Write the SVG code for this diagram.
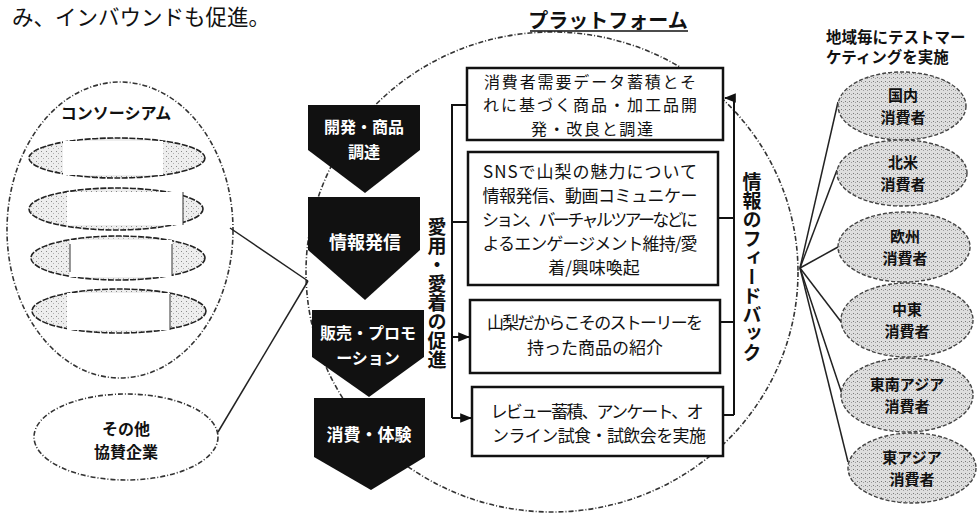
<svg xmlns="http://www.w3.org/2000/svg" width="980" height="517" viewBox="0 0 980 517">
<style>
.jp{font-family:"Noto Sans CJK JP","Noto Sans",sans-serif;fill:#111}
.b{font-weight:bold}
.wt{fill:#fff;font-weight:bold}
.box{fill:#fff;stroke:#111;stroke-width:2.5}
.chev{fill:#111}
.ln{fill:none;stroke:#111;stroke-width:2}
.thin{fill:none;stroke:#222;stroke-width:1.5}
.dash{fill:none;stroke:#333;stroke-width:1.6;stroke-dasharray:5 2 1 2}
.lite{fill:url(#dotsL);stroke:#222;stroke-width:1.6;stroke-dasharray:6 1.5}
.gray{fill:url(#dotsD);stroke:#444;stroke-width:1.4;stroke-dasharray:4 2}
</style>
<defs>
<pattern id="dotsL" width="5" height="5" patternUnits="userSpaceOnUse">
<rect width="5" height="5" fill="#eeeeee"/><rect x="1" y="1" width="1" height="1" fill="#8a8a8a"/><rect x="3" y="3" width="1" height="1" fill="#b0b0b0"/>
</pattern>
<pattern id="dotsD" width="4" height="4" patternUnits="userSpaceOnUse">
<rect width="4" height="4" fill="#dedede"/><rect x="1" y="1" width="1" height="1" fill="#7a7a7a"/><rect x="3" y="2" width="1" height="1" fill="#a0a0a0"/>
</pattern>
<marker id="arr" viewBox="0 0 10 10" refX="9" refY="5" markerWidth="6" markerHeight="6" orient="auto">
<path d="M0,1 L10,5 L0,9 z" fill="#111"/>
</marker>
</defs>

<text class="jp" x="12" y="15" font-size="21.5" dominant-baseline="central">み、インバウンドも促進。</text>

<g id="platform">
<ellipse class="dash" cx="552" cy="272" rx="246" ry="240"/>
<text class="jp b" x="608" y="19" font-size="20" text-anchor="middle" dominant-baseline="central">プラットフォーム</text>
<line x1="530" y1="31" x2="688" y2="31" stroke="#111" stroke-width="1.5"/>
</g>

<g id="consortium">
<ellipse class="dash" cx="120" cy="230" rx="113" ry="148"/>
<text class="jp b" x="116" y="112" font-size="16" text-anchor="middle" dominant-baseline="central">コンソーシアム</text>
<ellipse class="lite" cx="117" cy="158" rx="88" ry="20"/>
<rect x="63" y="141" width="100" height="34" fill="#fff"/>
<ellipse class="lite" cx="116" cy="209" rx="87" ry="21"/>
<rect x="67" y="192" width="116" height="33" fill="#fff"/>
<line x1="183" y1="192" x2="183" y2="225" stroke="#333" stroke-width="1"/>
<ellipse class="lite" cx="118" cy="258" rx="87" ry="22"/>
<rect x="70" y="240" width="102" height="37" fill="#fff"/>
<line x1="70" y1="244" x2="70" y2="272" stroke="#333" stroke-width="1"/>
<line x1="172" y1="244" x2="172" y2="276" stroke="#333" stroke-width="1"/>
<ellipse class="lite" cx="119" cy="311" rx="87" ry="22"/>
<rect x="67" y="293" width="103" height="37" fill="#fff"/>
<line x1="170" y1="294" x2="170" y2="330" stroke="#333" stroke-width="1"/>
</g>

<g id="sponsors">
<ellipse class="dash" cx="126" cy="437" rx="92" ry="43"/>
<text class="jp b" font-size="16" text-anchor="middle"><tspan x="126" y="435">その他</tspan><tspan x="126" y="458">協賛企業</tspan></text>
</g>

<g id="chevrons">
<g id="step1"><polygon class="chev" points="308,105 420,105 420,150 365,193 308,150"/>
<text class="jp wt" font-size="16" text-anchor="middle"><tspan x="364" y="133">開発・商品</tspan><tspan x="364" y="158">調達</tspan></text></g>
<g id="step2"><polygon class="chev" points="308,197 420,197 420,250 365,300 308,250"/>
<text class="jp wt" x="365" y="249" font-size="18" text-anchor="middle">情報発信</text></g>
<g id="step3"><polygon class="chev" points="312,310 424,310 424,357 369,397 312,357"/>
<text class="jp wt" font-size="16" text-anchor="middle"><tspan x="368" y="339">販売・プロモ</tspan><tspan x="368" y="364">ーション</tspan></text></g>
<g id="step4"><polygon class="chev" points="314,398 425,398 425,457 371,490 314,457"/>
<text class="jp wt" x="369" y="441" font-size="17" text-anchor="middle">消費・体験</text></g>
</g>

<g id="boxes">
<g id="box1"><rect class="box" x="467" y="68" width="256" height="72"/>
<text class="jp" font-size="16" text-anchor="middle"><tspan x="590" y="87.5" textLength="212">消費者需要データ蓄積とそ</tspan><tspan x="590" y="111" textLength="214">れに基づく商品・加工品開</tspan><tspan x="592" y="134.5" textLength="122">発・改良と調達</tspan></text></g>
<g id="box2"><rect class="box" x="468" y="152" width="250" height="133"/>
<text class="jp" font-size="17" text-anchor="middle"><tspan x="590" y="178" textLength="214">SNSで山梨の魅力について</tspan><tspan x="590" y="202" textLength="215">情報発信、動画コミュニケー</tspan><tspan x="590" y="226" textLength="216">ション、バーチャルツアーなどに</tspan><tspan x="590" y="250" textLength="215">よるエンゲージメント維持/愛</tspan><tspan x="594" y="274">着/興味喚起</tspan></text></g>
<g id="box3"><rect class="box" x="470" y="300" width="250" height="73"/>
<text class="jp" font-size="17" text-anchor="middle"><tspan x="595" y="329" textLength="216">山梨だからこそのストーリーを</tspan><tspan x="595" y="354">持った商品の紹介</tspan></text></g>
<g id="box4"><rect class="box" x="472" y="387" width="251" height="69"/>
<text class="jp" font-size="17" text-anchor="middle"><tspan x="597" y="418" textLength="213">レビュー蓄積、アンケート、オ</tspan><tspan x="599" y="442" textLength="214">ンライン試食・試飲会を実施</tspan></text></g>
</g>

<g id="connectors">
<polyline class="ln" points="467,105 452,105 452,418"/>
<line class="ln" x1="452" y1="222" x2="468" y2="222"/>
<line class="ln" x1="452" y1="337" x2="469" y2="337" marker-end="url(#arr)"/>
<line class="ln" x1="452" y1="418" x2="471" y2="418" marker-end="url(#arr)"/>
<polyline class="ln" points="734,415 734,98 725,98" marker-end="url(#arr)"/>
<line class="ln" x1="718" y1="218" x2="734" y2="218"/>
<line class="ln" x1="720" y1="322" x2="734" y2="322"/>
<line class="ln" x1="723" y1="415" x2="734" y2="415"/>
<line class="thin" x1="230" y1="228" x2="308" y2="281"/>
<line class="thin" x1="218" y1="432" x2="308" y2="281"/>
<line class="thin" x1="800" y1="268" x2="838" y2="102"/>
<line class="thin" x1="800" y1="268" x2="837" y2="170"/>
<line class="thin" x1="800" y1="268" x2="838" y2="247"/>
<line class="thin" x1="800" y1="268" x2="842" y2="323"/>
<line class="thin" x1="800" y1="268" x2="843" y2="397"/>
<line class="thin" x1="800" y1="268" x2="848" y2="462"/>
</g>

<text class="jp b" x="437" y="217" font-size="19" writing-mode="vertical-rl">愛用・愛着の促進</text>
<text class="jp b" x="752" y="172" font-size="19" writing-mode="vertical-rl">情報のフィードバック</text>

<text class="jp b" font-size="15.5"><tspan x="826" y="43">地域毎にテストマー</tspan><tspan x="826" y="63">ケティングを実施</tspan></text>

<g id="c1"><ellipse class="gray" cx="902" cy="106" rx="64" ry="34"/><text class="jp b" font-size="15" text-anchor="middle"><tspan x="903" y="101">国内</tspan><tspan x="903" y="123">消費者</tspan></text></g>
<g id="c2"><ellipse class="gray" cx="902" cy="173" rx="65" ry="33"/><text class="jp b" font-size="15" text-anchor="middle"><tspan x="903" y="168">北米</tspan><tspan x="903" y="190">消費者</tspan></text></g>
<g id="c3"><ellipse class="gray" cx="904" cy="247" rx="66" ry="35"/><text class="jp b" font-size="15" text-anchor="middle"><tspan x="905" y="242">欧州</tspan><tspan x="905" y="264">消費者</tspan></text></g>
<g id="c4"><ellipse class="gray" cx="907" cy="320" rx="66" ry="37"/><text class="jp b" font-size="15" text-anchor="middle"><tspan x="907" y="315">中東</tspan><tspan x="907" y="337">消費者</tspan></text></g>
<g id="c5"><ellipse class="gray" cx="907" cy="395" rx="66" ry="37"/><text class="jp b" font-size="15" text-anchor="middle"><tspan x="907" y="390">東南アジア</tspan><tspan x="907" y="412">消費者</tspan></text></g>
<g id="c6"><ellipse class="gray" cx="912" cy="468" rx="64" ry="35"/><text class="jp b" font-size="15" text-anchor="middle"><tspan x="912" y="463">東アジア</tspan><tspan x="912" y="485">消費者</tspan></text></g>
</svg>
